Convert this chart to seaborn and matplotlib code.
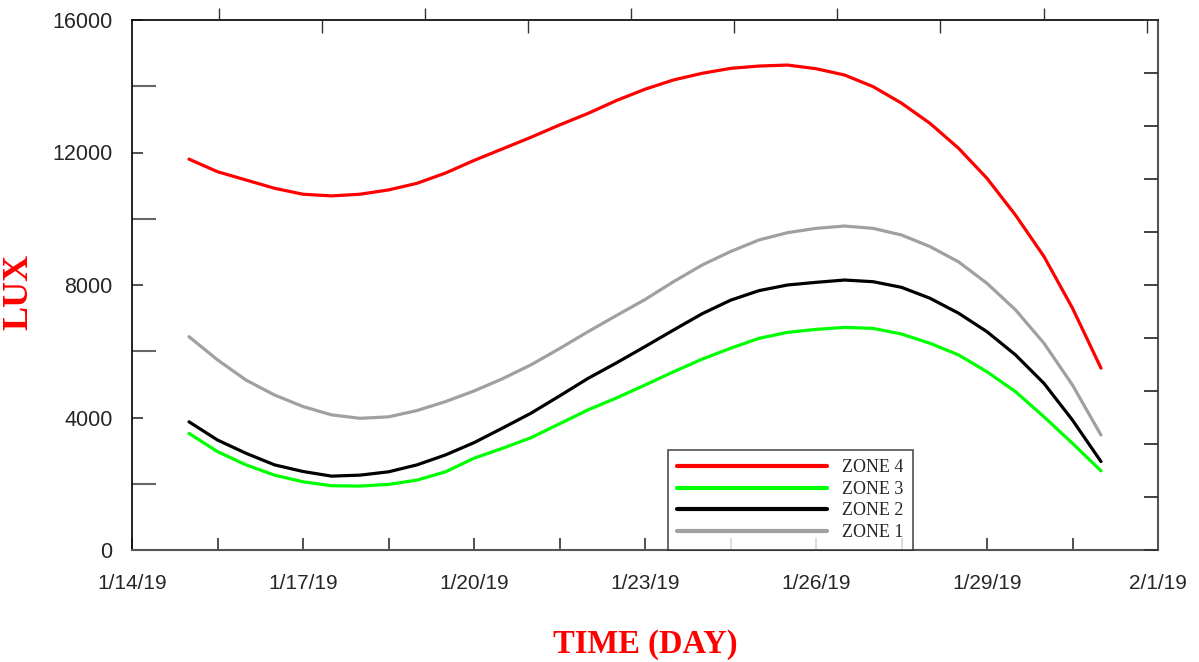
import numpy as np
import pandas as pd
import matplotlib
matplotlib.use("Agg")
import matplotlib.pyplot as plt
import seaborn as sns

# ---- data (every 12 hours) ----
dates = pd.date_range("2019-01-15", "2019-01-31", freq="12h")
zone4 = [11800, 11420, 11170, 10920, 10740, 10690, 10740, 10870, 11070, 11380,
         11760, 12110, 12460, 12830, 13180, 13570, 13910, 14190, 14390, 14540,
         14610, 14640, 14530, 14340, 13990, 13490, 12880, 12130, 11220, 10110,
         8860, 7300, 5490]
zone3 = [3520, 2970, 2570, 2260, 2060, 1940, 1930, 1980, 2110, 2360,
         2770, 3070, 3390, 3810, 4230, 4590, 4980, 5380, 5760, 6090,
         6390, 6570, 6660, 6720, 6690, 6520, 6240, 5890, 5380, 4780,
         4020, 3220, 2390]
zone2 = [3870, 3320, 2920, 2570, 2370, 2230, 2260, 2360, 2570, 2870,
         3240, 3680, 4130, 4650, 5180, 5650, 6140, 6640, 7130, 7540,
         7830, 8000, 8080, 8150, 8100, 7930, 7600, 7150, 6590, 5890,
         5030, 3920, 2670]
zone1 = [6440, 5740, 5130, 4680, 4330, 4080, 3975, 4020, 4210, 4480,
         4800, 5170, 5590, 6080, 6590, 7080, 7560, 8100, 8600, 9010,
         9360, 9580, 9710, 9780, 9710, 9510, 9160, 8700, 8050, 7250,
         6240, 4980, 3470]
series_names = ["ZONE 4", "ZONE 3", "ZONE 2", "ZONE 1"]
series_colors = ["#FF0000", "#00FF00", "#000000", "#A0A0A0"]
xtick_dates = pd.date_range("2019-01-14", "2019-02-01", freq="3D")
xtick_labels = ["1/14/19", "1/17/19", "1/20/19", "1/23/19", "1/26/19", "1/29/19", "2/1/19"]
ytick_values = [0, 4000, 8000, 12000, 16000]
ytick_labels = ["0", "4000", "8000", "12000", "16000"]

df = pd.concat([
    pd.DataFrame({"date": dates, "lux": vals, "zone": name})
    for name, vals in zip(series_names, [zone4, zone3, zone2, zone1])
])

sns.set_style("white")
plt.rcParams["font.family"] = ["Liberation Sans", "DejaVu Sans"]

fig = plt.figure(figsize=(11.99, 6.62), dpi=100)
ax = fig.add_axes([132 / 1199, 1 - 550 / 662, 1026 / 1199, 530 / 662])

sns.lineplot(data=df, x="date", y="lux", hue="zone", hue_order=series_names,
             palette=dict(zip(series_names, series_colors)), linewidth=2.3,
             ax=ax, legend=True)

ax.set_xlim(pd.Timestamp("2019-01-14"), pd.Timestamp("2019-02-01"))
ax.set_ylim(0, 16000)

ax.set_xticks(xtick_dates)
ax.set_xticklabels(xtick_labels, fontsize=15)
ax.set_xticks(xtick_dates[:-1] + pd.Timedelta(hours=36), minor=True)
ax.set_yticks(ytick_values)
ax.set_yticklabels(ytick_labels, fontsize=15.5)
ax.set_yticks([2000, 6000, 10000, 14000], minor=True)

ax.tick_params(axis="x", which="both", direction="in", length=9, width=1.2,
               color="#333333", pad=17, bottom=True)
ax.tick_params(axis="y", which="major", direction="in", length=8, width=1.2,
               color="#333333", pad=14, left=True)
ax.tick_params(axis="y", which="minor", direction="in", length=17, width=1.5,
               color="#666666", left=True)

for s in ["left", "top"]:
    ax.spines[s].set_color("#111111")
    ax.spines[s].set_linewidth(1.3)
for s in ["right", "bottom"]:
    ax.spines[s].set_color("#555555")
    ax.spines[s].set_linewidth(1.5)

# right axis ticks
axr = ax.twinx()
axr.set_ylim(0, 16000)
axr.set_yticks(np.arange(0, 16001, 1600))
axr.tick_params(axis="y", direction="in", length=10, width=1.3, color="#333333",
                labelright=False)
axr.grid(False)
for s in axr.spines.values():
    s.set_visible(False)

# top axis ticks
axt = ax.twiny()
axt.set_xlim(0, 1)
axt.set_xticks([0.085, 0.2856, 0.4864, 0.6871, 0.8889])
axt.set_xticks([0.1852, 0.386, 0.5867, 0.7875, 0.9893], minor=True)
axt.tick_params(axis="x", which="major", direction="out", length=9, width=1.0,
                color="#333333", labeltop=False, top=True)
axt.tick_params(axis="x", which="minor", direction="in", length=9, width=1.0,
                color="#333333", top=True)
axt.grid(False)
for s in axt.spines.values():
    s.set_visible(False)

ax.set_xlabel("TIME (DAY)", fontsize=23.5, fontweight="bold", color="#FF0000",
              family=["Liberation Serif", "DejaVu Serif"], labelpad=26)
ax.set_ylabel("LUX", fontsize=26, fontweight="bold", color="#FF0000",
              family=["Liberation Serif", "DejaVu Serif"])
ax.yaxis.set_label_coords(-0.0945, 0.487)

handles, labels = ax.get_legend_handles_labels()
leg = ax.legend(handles, labels, loc="lower left", bbox_to_anchor=(0.5225, 0.0),
                borderaxespad=0, frameon=True, fancybox=False, handlelength=8.3,
                handletextpad=0.85, labelspacing=0.25, borderpad=0.5,
                prop={"family": ["Liberation Serif"], "size": 13})
leg.get_frame().set_edgecolor("#222222")
leg.get_frame().set_linewidth(1.2)
for line in leg.get_lines():
    line.set_linewidth(3)

ax.grid(False)
fig.savefig("out.png", dpi=100)
